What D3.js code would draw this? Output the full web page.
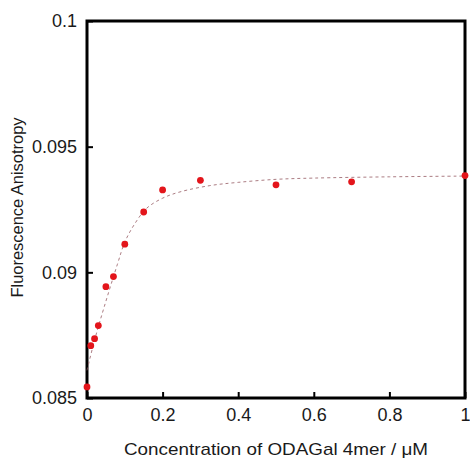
<!DOCTYPE html>
<html>
<head>
<meta charset="utf-8">
<script src="https://cdn.jsdelivr.net/npm/d3@7"></script>
<style>
  body { margin: 0; background: #fff; }
  text { font-family: "Liberation Sans", Arial, sans-serif; }
</style>
</head>
<body>
<svg id="viz" width="470" height="460"></svg>
<script>
// measured points
var concentration = [0, 0.01, 0.02, 0.03, 0.05, 0.07, 0.1, 0.15, 0.2, 0.3, 0.5, 0.7, 1.0];
var anisotropy = [0.08544, 0.08708, 0.08736, 0.08788, 0.08943, 0.08983, 0.09112, 0.0924, 0.09328, 0.09366, 0.09348, 0.0936, 0.09385];

// fitted curve
var fitX = [0, 0.02, 0.045, 0.08, 0.1, 0.125, 0.158, 0.2, 0.246, 0.325, 0.4, 0.5, 0.6, 0.8, 1.0];
var fitY = [0.0861, 0.0873, 0.0886, 0.0903, 0.0912, 0.0919, 0.09255, 0.09295, 0.0932, 0.09345, 0.09358, 0.0937, 0.09375, 0.0938, 0.09383];

var xTicks = [0, 0.2, 0.4, 0.6, 0.8, 1];
var xTickLabels = ["0", "0.2", "0.4", "0.6", "0.8", "1"];
var yTicks = [0.085, 0.09, 0.095, 0.1];
var yTickLabels = ["0.085", "0.09", "0.095", "0.1"];

function drawChart() {
	var margin = { left: 87, top: 21, right: 5, bottom: 62 };
	var width = 470, height = 460;
	var innerWidth = width - margin.left - margin.right;
	var innerHeight = height - margin.top - margin.bottom;

	var x = d3.scaleLinear().domain([0, 1]).range([0, innerWidth]);
	var y = d3.scaleLinear().domain([0.085, 0.1]).range([innerHeight, 0]);

	var svg = d3.select("#viz");
	var g = svg.append("g")
		.attr("transform", "translate(" + margin.left + "," + margin.top + ")");

	var xAxis = d3.axisBottom(x)
		.tickValues(xTicks)
		.tickFormat(function(d, i) { return xTickLabels[i]; })
		.tickSize(-6)
		.tickPadding(10);

	var yAxis = d3.axisLeft(y)
		.tickValues(yTicks)
		.tickFormat(function(d, i) { return yTickLabels[i]; })
		.tickSize(-6)
		.tickPadding(10);

	var gx = g.append("g")
		.attr("transform", "translate(0," + innerHeight + ")")
		.call(xAxis);
	var gy = g.append("g").call(yAxis);

	[gx, gy].forEach(function(a) {
		a.select(".domain").remove();
		a.selectAll(".tick line").attr("stroke", "#000").attr("stroke-width", 2);
		a.selectAll(".tick text").attr("font-size", 18).attr("fill", "#1a1a1a")
			.attr("font-family", "'Liberation Sans', Arial, sans-serif");
	});

	// frame
	g.append("rect")
		.attr("x", x(0))
		.attr("y", y(0.1))
		.attr("width", x(1) - x(0))
		.attr("height", y(0.085) - y(0.1))
		.attr("fill", "none")
		.attr("stroke", "#000")
		.attr("stroke-width", 3);

	// fit line
	var line = d3.line()
		.x(function(d, i) { return x(fitX[i]); })
		.y(function(d) { return y(d); })
		.curve(d3.curveCatmullRom.alpha(0.5));

	g.append("path")
		.datum(fitY)
		.attr("d", line)
		.attr("fill", "none")
		.attr("stroke", "#965a62")
		.attr("stroke-width", 0.8)
		.attr("stroke-dasharray", "3,3");

	// points
	g.selectAll(".pt")
		.data(anisotropy)
		.enter().append("circle")
		.attr("class", "pt")
		.attr("cx", function(d, i) { return x(concentration[i]); })
		.attr("cy", function(d) { return y(d); })
		.attr("r", 3.4)
		.attr("fill", "#e3151b");

	// axis titles
	svg.append("text")
		.attr("x", margin.left + innerWidth / 2)
		.attr("y", 455)
		.attr("text-anchor", "middle")
		.attr("font-size", 17)
		.attr("fill", "#1a1a1a")
		.attr("textLength", 304)
		.attr("lengthAdjust", "spacingAndGlyphs")
		.text("Concentration of ODAGal 4mer / \u03bcM");

	svg.append("text")
		.attr("transform", "translate(23," + (margin.top + innerHeight / 2 - 2) + ") rotate(-90)")
		.attr("text-anchor", "middle")
		.attr("font-size", 17)
		.attr("fill", "#1a1a1a")
		.attr("textLength", 180)
		.attr("lengthAdjust", "spacingAndGlyphs")
		.text("Fluorescence Anisotropy");
}

drawChart();
</script>
</body>
</html>
